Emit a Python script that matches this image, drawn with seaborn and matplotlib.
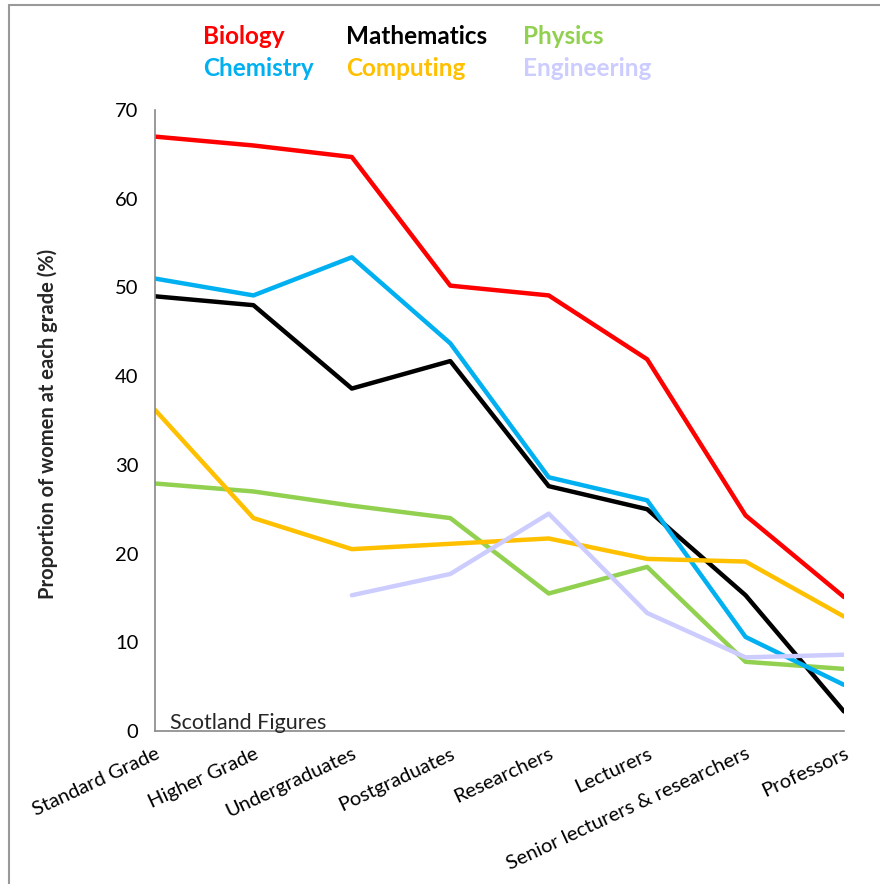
import numpy as np
import pandas as pd
import matplotlib
matplotlib.use("Agg")
import matplotlib.pyplot as plt
from matplotlib.lines import Line2D
import seaborn as sns

grades = ["Standard Grade", "Higher Grade", "Undergraduates", "Postgraduates",
          "Researchers", "Lecturers", "Senior lecturers & researchers", "Professors"]

biology = [67.0, 66.0, 64.7, 50.2, 49.1, 41.9, 24.3, 15.1]
mathematics = [49.0, 48.0, 38.6, 41.7, 27.6, 25.0, 15.3, 2.2]
physics = [27.9, 27.0, 25.4, 24.0, 15.5, 18.5, 7.8, 7.0]
chemistry = [51.0, 49.1, 53.4, 43.7, 28.6, 26.0, 10.6, 5.2]
computing = [36.2, 24.0, 20.5, 21.1, 21.7, 19.4, 19.1, 12.9]
engineering = [np.nan, np.nan, 15.3, 17.7, 24.5, 13.3, 8.3, 8.6]

subjects = ["Biology", "Mathematics", "Physics", "Chemistry", "Computing", "Engineering"]
colors = ["#FF0000", "#000000", "#92D050", "#00B0F0", "#FFC000", "#CCCCFF"]
series = [biology, mathematics, physics, chemistry, computing, engineering]

rows = []
for name, vals in zip(subjects, series):
    for g, v in zip(grades, vals):
        rows.append({"grade": g, "subject": name, "value": v})
df = pd.DataFrame(rows).dropna()

sns.set_theme(style="white")
plt.rcParams["font.family"] = ["Lato", "DejaVu Sans"]

W, H = 880, 884
fig = plt.figure(figsize=(W / 100, H / 100), dpi=100)
ax = fig.add_axes([155 / W, 1 - 731 / H, (844 - 155) / W, (731 - 110) / H])

sns.lineplot(data=df, x="grade", y="value", hue="subject", hue_order=subjects,
             palette=dict(zip(subjects, colors)), sort=False, linewidth=3.2,
             legend=False, ax=ax)

ax.set_xlim(0, len(grades) - 1)
ax.set_ylim(0, 70)
ax.set_yticks(range(0, 71, 10))
ax.set_xticks(range(len(grades)))
ax.set_xticklabels(grades, rotation=25, ha="right", rotation_mode="anchor")
ax.tick_params(axis="both", labelsize=14.5, colors="#888888", labelcolor="black",
               length=6, width=1.2, direction="out", pad=4)
ax.tick_params(axis="y", pad=6)
for side in ("top", "right"):
    ax.spines[side].set_visible(False)
for side in ("left", "bottom"):
    ax.spines[side].set_color("#888888")
    ax.spines[side].set_linewidth(1.2)
ax.set_xlabel("")
ax.set_ylabel("Proportion of women at each grade (%)", fontsize=14.5,
              fontweight="bold")
ax.yaxis.set_label_coords((58 - 155) / (844 - 155), 0.495)

# Caption near the origin, placed in display pixels
ax.text(170, H - 729, "Scotland Figures", transform=None, fontsize=15.5)

# Legend as coloured text entries
legend_pos = [(203, 37), (346, 37), (523, 37), (203, 69), (346, 69), (523, 69)]
for name, col, (x, y) in zip(subjects, colors, legend_pos):
    fig.text(x / W, 1 - y / H, name, color=col, fontsize=17.5, fontweight="bold",
             ha="left", va="center")

# Chart-area frame along the left and top edges
fig.add_artist(Line2D([9 / W, 9 / W], [0, 1 - 5 / H], color="#999999", lw=1.5,
                      transform=fig.transFigure))
fig.add_artist(Line2D([9 / W, 1], [1 - 5 / H, 1 - 5 / H], color="#999999", lw=1.5,
                      transform=fig.transFigure))

fig.savefig("out.png", dpi=100)
